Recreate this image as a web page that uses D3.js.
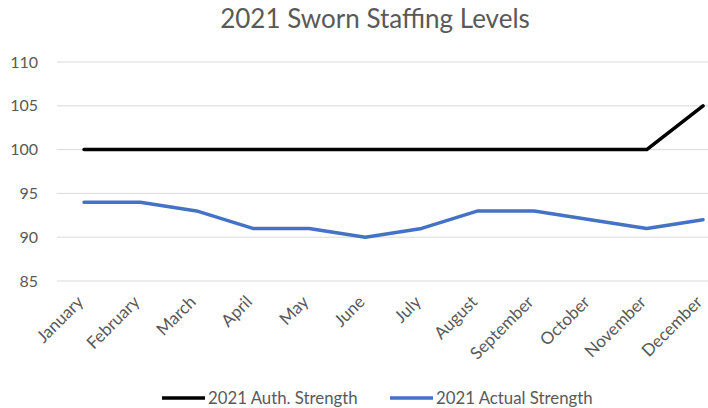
<!DOCTYPE html>
<html>
<head>
<meta charset="utf-8">
<script src="https://cdn.jsdelivr.net/npm/d3@7/dist/d3.min.js"></script>
<style>
  html, body { margin: 0; padding: 0; background: #fff; }
  svg { display: block; }
  text { font-family: Lato, "Open Sans", sans-serif; fill: #595959; }
</style>
</head>
<body>
<svg id="chart" width="708" height="408"></svg>
<script>
// Monthly sworn staffing, 2021
const months = ["January", "February", "March", "April", "May", "June",
                "July", "August", "September", "October", "November", "December"];
const authStrength = [100, 100, 100, 100, 100, 100, 100, 100, 100, 100, 100, 105];
const actualStrength = [94, 94, 93, 91, 91, 90, 91, 93, 93, 92, 91, 92];
const yTicks = [85, 90, 95, 100, 105, 110];
const seriesNames = ["2021 Auth. Strength", "2021 Actual Strength"];
const seriesColors = ["#000000", "#4472C4"];

const svg = d3.select("#chart");
const FONT = "Lato, 'Open Sans', sans-serif";

const x = d3.scalePoint().domain(months).range([84, 703]);
const y = d3.scaleLinear().domain([85, 110]).range([281, 62]);
const plotLeft = 57, plotRight = 740;

// Title
svg.append("text")
  .attr("x", 375).attr("y", 28)
  .attr("text-anchor", "middle")
  .style("font-size", "26px")
  .text("2021 Sworn Staffing Levels");

// Horizontal gridlines
svg.append("g")
  .selectAll("line")
  .data(yTicks)
  .join("line")
  .attr("x1", plotLeft).attr("x2", plotRight)
  .attr("y1", d => y(d)).attr("y2", d => y(d))
  .attr("stroke", "#d9d9d9").attr("stroke-width", 1);

// Y axis labels
const yAxis = d3.axisLeft(y).tickValues(yTicks).tickSize(0).tickPadding(0);
svg.append("g")
  .attr("transform", "translate(38,0)")
  .call(yAxis)
  .call(g => g.select(".domain").remove())
  .call(g => g.selectAll("text")
    .style("font-size", "16px")
    .style("font-family", FONT)
    .attr("fill", "#595959"));

// X axis labels, rotated
const xAxis = d3.axisBottom(x).tickSize(0).tickPadding(0);
svg.append("g")
  .attr("transform", "translate(0,281)")
  .call(xAxis)
  .call(g => g.select(".domain").remove())
  .call(g => g.selectAll("text")
    .style("font-size", "17px")
    .style("font-family", FONT)
    .attr("fill", "#595959")
    .attr("text-anchor", "end")
    .attr("dy", "0")
    .attr("transform", "translate(0,22) rotate(-45)"));

// Lines
const line = d3.line()
  .x((d, i) => x(months[i]))
  .y(d => y(d));

[authStrength, actualStrength].forEach((vals, k) => {
  svg.append("path")
    .datum(vals)
    .attr("d", line)
    .attr("fill", "none")
    .attr("stroke", seriesColors[k])
    .attr("stroke-width", 3.5)
    .attr("stroke-linejoin", "round")
    .attr("stroke-linecap", "round");
});

// Legend
const legendItems = [
  { x: 162, name: seriesNames[0], color: seriesColors[0] },
  { x: 390, name: seriesNames[1], color: seriesColors[1] }
];
const lg = svg.append("g");
legendItems.forEach(item => {
  lg.append("line")
    .attr("x1", item.x).attr("x2", item.x + 43)
    .attr("y1", 398).attr("y2", 398)
    .attr("stroke", item.color).attr("stroke-width", 3.5);
  lg.append("text")
    .attr("x", item.x + 46).attr("y", 404)
    .style("font-size", "16.8px")
    .text(item.name);
});
</script>
</body>
</html>
